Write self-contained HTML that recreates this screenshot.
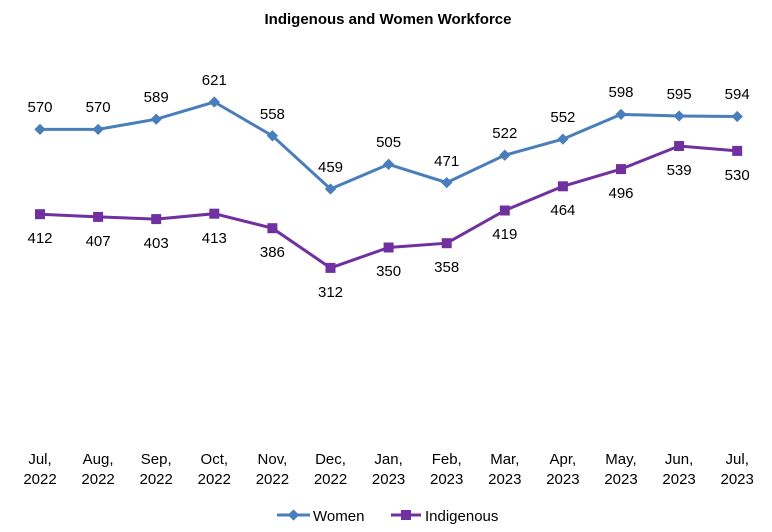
<!DOCTYPE html>
<html><head><meta charset="utf-8"><style>
html,body{margin:0;padding:0;background:#fff;}
svg{display:block;font-family:"Liberation Sans",Arial,sans-serif;}
</style></head><body>
<svg width="772" height="532" viewBox="0 0 772 532" xmlns="http://www.w3.org/2000/svg" font-size="15">
<rect width="772" height="532" fill="#fff"/>
<text x="388" y="24" text-anchor="middle" font-weight="bold">Indigenous and Women Workforce</text>
<polyline fill="none" stroke="#4A7EBB" stroke-width="3" points="40,129.4 98.1,129.4 156.2,119.2 214.3,102 272.4,135.8 330.5,189 388.6,164.3 446.7,182.6 504.8,155.2 562.9,139.1 621,114.4 679.1,116 737.2,116.5"/>
<polyline fill="none" stroke="#7030A0" stroke-width="3" points="40,214.2 98.1,216.9 156.2,219.1 214.3,213.7 272.4,228.2 330.5,267.9 388.6,247.5 446.7,243.2 504.8,210.5 562.9,186.3 621,169.1 679.1,146 737.2,150.9"/>
<g fill="#4A7EBB">
<rect x="36" y="125.4" width="8" height="8" transform="rotate(45 40 129.4)"/>
<rect x="94.1" y="125.4" width="8" height="8" transform="rotate(45 98.1 129.4)"/>
<rect x="152.2" y="115.2" width="8" height="8" transform="rotate(45 156.2 119.2)"/>
<rect x="210.3" y="98" width="8" height="8" transform="rotate(45 214.3 102)"/>
<rect x="268.4" y="131.8" width="8" height="8" transform="rotate(45 272.4 135.8)"/>
<rect x="326.5" y="185" width="8" height="8" transform="rotate(45 330.5 189)"/>
<rect x="384.6" y="160.3" width="8" height="8" transform="rotate(45 388.6 164.3)"/>
<rect x="442.7" y="178.6" width="8" height="8" transform="rotate(45 446.7 182.6)"/>
<rect x="500.8" y="151.2" width="8" height="8" transform="rotate(45 504.8 155.2)"/>
<rect x="558.9" y="135.1" width="8" height="8" transform="rotate(45 562.9 139.1)"/>
<rect x="617" y="110.4" width="8" height="8" transform="rotate(45 621 114.4)"/>
<rect x="675.1" y="112" width="8" height="8" transform="rotate(45 679.1 116)"/>
<rect x="733.2" y="112.5" width="8" height="8" transform="rotate(45 737.2 116.5)"/>
</g>
<g fill="#7030A0">
<rect x="35" y="209.2" width="10" height="10"/>
<rect x="93.1" y="211.9" width="10" height="10"/>
<rect x="151.2" y="214.1" width="10" height="10"/>
<rect x="209.3" y="208.7" width="10" height="10"/>
<rect x="267.4" y="223.2" width="10" height="10"/>
<rect x="325.5" y="262.9" width="10" height="10"/>
<rect x="383.6" y="242.5" width="10" height="10"/>
<rect x="441.7" y="238.2" width="10" height="10"/>
<rect x="499.8" y="205.5" width="10" height="10"/>
<rect x="557.9" y="181.3" width="10" height="10"/>
<rect x="616" y="164.1" width="10" height="10"/>
<rect x="674.1" y="141" width="10" height="10"/>
<rect x="732.2" y="145.9" width="10" height="10"/>
</g>
<g text-anchor="middle" fill="#000">
<text x="40" y="112">570</text>
<text x="98.1" y="112">570</text>
<text x="156.2" y="102">589</text>
<text x="214.3" y="85">621</text>
<text x="272.4" y="119">558</text>
<text x="330.5" y="172">459</text>
<text x="388.6" y="147">505</text>
<text x="446.7" y="166">471</text>
<text x="504.8" y="138">522</text>
<text x="562.9" y="122">552</text>
<text x="621" y="97">598</text>
<text x="679.1" y="99">595</text>
<text x="737.2" y="99">594</text>

<text x="40" y="243">412</text>
<text x="98.1" y="246">407</text>
<text x="156.2" y="248">403</text>
<text x="214.3" y="243">413</text>
<text x="272.4" y="257">386</text>
<text x="330.5" y="297">312</text>
<text x="388.6" y="276">350</text>
<text x="446.7" y="272">358</text>
<text x="504.8" y="239">419</text>
<text x="562.9" y="215">464</text>
<text x="621" y="198">496</text>
<text x="679.1" y="175">539</text>
<text x="737.2" y="180">530</text>

<text x="40" y="464">Jul,</text><text x="40" y="484">2022</text>
<text x="98.1" y="464">Aug,</text><text x="98.1" y="484">2022</text>
<text x="156.2" y="464">Sep,</text><text x="156.2" y="484">2022</text>
<text x="214.3" y="464">Oct,</text><text x="214.3" y="484">2022</text>
<text x="272.4" y="464">Nov,</text><text x="272.4" y="484">2022</text>
<text x="330.5" y="464">Dec,</text><text x="330.5" y="484">2022</text>
<text x="388.6" y="464">Jan,</text><text x="388.6" y="484">2023</text>
<text x="446.7" y="464">Feb,</text><text x="446.7" y="484">2023</text>
<text x="504.8" y="464">Mar,</text><text x="504.8" y="484">2023</text>
<text x="562.9" y="464">Apr,</text><text x="562.9" y="484">2023</text>
<text x="621" y="464">May,</text><text x="621" y="484">2023</text>
<text x="679.1" y="464">Jun,</text><text x="679.1" y="484">2023</text>
<text x="737.2" y="464">Jul,</text><text x="737.2" y="484">2023</text>
</g>
<line x1="277" y1="515" x2="310" y2="515" stroke="#4A7EBB" stroke-width="3"/>
<rect x="289.5" y="511" width="8" height="8" fill="#4A7EBB" transform="rotate(45 293.5 515)"/>
<text x="313" y="521">Women</text>
<line x1="391" y1="515" x2="421" y2="515" stroke="#7030A0" stroke-width="3"/>
<rect x="401" y="510" width="10" height="10" fill="#7030A0"/>
<text x="425" y="521">Indigenous</text>
</svg>
</body></html>
